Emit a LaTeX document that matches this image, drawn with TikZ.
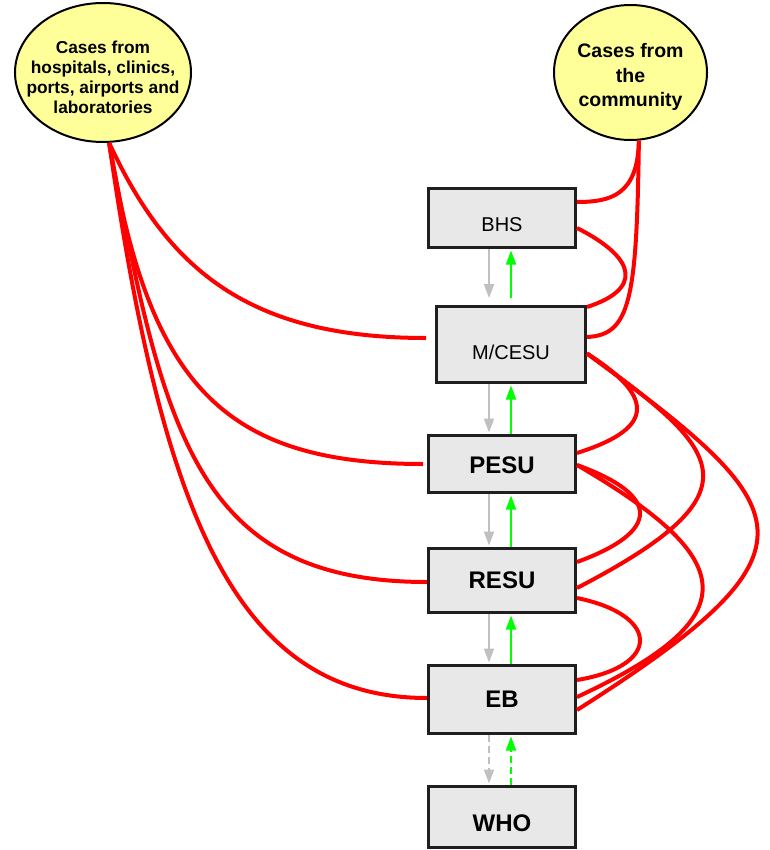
\documentclass[tikz,border=0pt]{standalone}
\usepackage{fontspec}
\setmainfont{Liberation Sans}
\usetikzlibrary{shapes.geometric,arrows.meta}
\definecolor{boxfill}{RGB}{232,232,232}
\definecolor{ellfill}{RGB}{255,255,153}
\definecolor{arrgray}{RGB}{192,192,192}
\definecolor{arrgreen}{RGB}{0,255,0}
\definecolor{linered}{RGB}{255,0,0}
\begin{document}
\begin{tikzpicture}[x=1pt,y=-1pt,
  unitbox/.style={draw=black!88,line width=3pt,fill=boxfill,minimum width=147pt,inner sep=0pt,
    font=\fontsize{24}{28}\selectfont\bfseries},
  smalltext/.style={font=\fontsize{20}{24}\selectfont},
  srcell/.style={ellipse,draw=black,line width=2pt,fill=ellfill,inner sep=0pt},
  redlink/.style={draw=linered,line width=4pt},
  downarr/.style={draw=arrgray,line width=2pt,-{Triangle[length=14pt,width=10pt]},shorten >=1.5pt},
  uparr/.style={draw=arrgreen,line width=1.8pt,-{Triangle[length=14pt,width=10pt]},shorten >=1.5pt},
  dashlink/.style={dash pattern=on 7pt off 4pt}
]
\useasboundingbox (0,0) rectangle (769,850);

% source ellipses
\node[srcell,minimum width=176pt,minimum height=139pt] (L) at (103,72.5)
  {\raisebox{-7pt}[\height][\depth]{\makebox[0pt]{\fontsize{17.3}{20}\selectfont\bfseries
   \begin{tabular}{@{}c@{}}Cases from\\hospitals, clinics,\\ports, airports and\\laboratories\end{tabular}}}};
\node[srcell,minimum width=153pt,minimum height=135pt] (R) at (630.5,72.5)
  {\raisebox{-5pt}[\height][\depth]{\makebox[0pt]{\fontsize{19.5}{24.5}\selectfont\bfseries
   \begin{tabular}{@{}c@{}}Cases from\\the\\community\end{tabular}}}};

% units
\node[unitbox,smalltext,minimum height=59pt] (BHS) at (502,218) {\raisebox{-6.5pt}[\height][\depth]{BHS}};
\node[unitbox,smalltext,minimum width=149pt,minimum height=76pt] (MC) at (511,344.5) {\raisebox{-8pt}[\height][\depth]{M/CESU}};
\node[unitbox,minimum height=57pt] (PESU) at (502,464) {\raisebox{-1.5pt}[\height][\depth]{PESU}};
\node[unitbox,minimum height=64pt] (RESU) at (502,580.5) {RESU};
\node[unitbox,minimum height=68pt] (EB) at (502,699.5) {EB};
\node[unitbox,minimum height=61pt] (WHO) at (502,817) {\raisebox{-6pt}[\height][\depth]{WHO}};

% vertical arrows
\coordinate (gx) at (489,0);
\coordinate (grx) at (511,0);
\draw[downarr,shorten >=7pt] (BHS.south -| gx) -- (MC.north -| gx);
\draw[uparr,shorten <=7pt] (MC.north -| grx) -- (BHS.south -| grx);
\draw[downarr] (MC.south -| gx) -- (PESU.north -| gx);
\draw[uparr] (PESU.north -| grx) -- (MC.south -| grx);
\draw[downarr] (PESU.south -| gx) -- (RESU.north -| gx);
\draw[uparr] (RESU.north -| grx) -- (PESU.south -| grx);
\draw[downarr] (RESU.south -| gx) -- (EB.north -| gx);
\draw[uparr] (EB.north -| grx) -- (RESU.south -| grx);
\draw[downarr,dashlink] (EB.south -| gx) -- (WHO.north -| gx);
\draw[uparr,dashlink] (WHO.north -| grx) -- (EB.south -| grx);

% red links from the left source
\draw[redlink,shorten >=9pt] (L.-85) .. controls +(59,128) and +(-185,0) .. ([yshift=6.5pt]MC.west);
\draw[redlink,shorten >=4pt] (L.-85) .. controls +(39,238) and +(-207,0) .. (PESU.west);
\draw[redlink] (L.-85) .. controls +(54,288) and +(-232,0) .. ([yshift=-1.5pt]RESU.west);
\draw[redlink] (L.-85) .. controls +(52,358) and +(-197,0) .. ([yshift=1.5pt]EB.west);

% red links from the right source
\draw[redlink] (R.-83) .. controls +(-1,55) and +(33,0) .. ([yshift=16pt]BHS.east);
\draw[redlink] (R.-83) .. controls +(-2,160) and +(43,-2) .. ([yshift=7.5pt]MC.east);

% red links between units
\draw[redlink] ([yshift=-10pt]BHS.east) .. controls +(63,32) and +(53,-17) .. ([yshift=37.5pt]MC.east);
\draw[redlink] ([yshift=-9pt]MC.east) .. controls +(73,46.5) and +(73,-23) .. ([yshift=11pt]PESU.east);
\draw[redlink] ([yshift=-9pt]MC.east) .. controls +(133,96.5) and +(189,-98) .. ([yshift=-7.5pt]RESU.east);
\draw[redlink] ([yshift=-9pt]MC.east) .. controls +(213,156.5) and +(255,-162) .. ([yshift=-10.5pt]EB.east);
\draw[redlink] ([yshift=-1pt]PESU.east) .. controls +(83,30) and +(85,-31) .. ([yshift=18.5pt]RESU.east);
\draw[redlink] ([yshift=-1pt]PESU.east) .. controls +(163,95) and +(172,-80) .. ([yshift=2.5pt]EB.east);
\draw[redlink] ([yshift=-17.5pt]RESU.east) .. controls +(83,17) and +(85,-14) .. ([yshift=19.5pt]EB.east);
\end{tikzpicture}
\end{document}
